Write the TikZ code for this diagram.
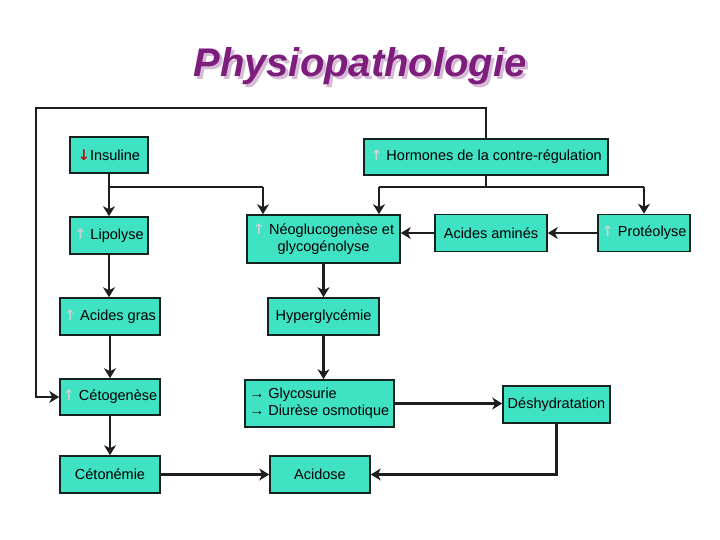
\documentclass[tikz,border=0pt]{standalone}
\usepackage{fontspec}
\setmainfont{Liberation Sans}
\newfontfamily\arrowfont{DejaVu Sans}
\usetikzlibrary{arrows.meta,calc}

\definecolor{boxfill}{RGB}{64,226,196}
\definecolor{titlepurple}{RGB}{125,30,125}
\definecolor{titleshadow}{RGB}{214,186,214}
\definecolor{upgray}{RGB}{200,212,208}

\tikzset{
  box/.style={draw={rgb,255:red,20;green,35;blue,30}, line width=1.6pt, fill=boxfill,
    inner sep=2pt, font=\fontsize{14.5}{17}\selectfont, align=center},
  link/.style={line width=2.2pt, draw={rgb,255:red,30;green,30;blue,30}},
  thinlink/.style={line width=1.5pt, draw={rgb,255:red,30;green,30;blue,30}},
  arr/.style={link, -{Stealth[length=10pt,width=12pt,inset=3pt]}},
}
\newcommand{\up}{{\arrowfont\bfseries\textcolor{upgray}{↑}}}
\newcommand{\down}{{\arrowfont\bfseries\textcolor{red!85!black}{↓}}}
\newcommand{\shadowtitle}[1]{\rlap{\kern3pt\raisebox{-3pt}{\textcolor{titleshadow}{#1}}}#1}

\begin{document}
\begin{tikzpicture}[x=1pt,y=1pt,yscale=-1,xscale=1]
\useasboundingbox (0,0) rectangle (720,540);

% Title
\node (title) [text=titlepurple, font=\fontsize{40}{44}\selectfont\bfseries\itshape] at (360,68) {\shadowtitle{Physiopathologie}};

% Boxes
\node (insuline)  [box, minimum width=78pt,  minimum height=36pt] at (109,155)   {\down Insuline};
\node (hormones)  [box, minimum width=244pt, minimum height=36pt] at (486,157)   {\up{} Hormones de la contre-régulation};
\node (lipolyse)  [box, minimum width=78pt,  minimum height=37pt] at (109,235.5) {\up{} Lipolyse};
\node (neo)       [box, minimum width=153pt, minimum height=48pt] at (323.5,239) {\up{} Néoglucogenèse et\\glycogénolyse};
\node (amines)    [box, minimum width=112pt, minimum height=37pt] at (491,233)   {Acides aminés};
\node (proteo)    [box, minimum width=92pt,  minimum height=37pt] at (644,233)   {\up{} Protéolyse};
\node (gras)      [box, minimum width=100pt, minimum height=37pt] at (110,316.5) {\up{} Acides gras};
\node (hyper)     [box, minimum width=111pt, minimum height=37pt] at (323.5,316.5) {Hyperglycémie};
\node (ceto)      [box, minimum width=100pt, minimum height=36pt] at (110,397)   {\up{} Cétogenèse};
\node (glyco)     [box, minimum width=149pt, minimum height=47pt, align=left] at (319.5,403.5) {→ Glycosurie\\→ Diurèse osmotique};
\node (deshy)     [box, minimum width=107pt, minimum height=37pt] at (556.5,404.5) {Déshydratation};
\node (cetonemie) [box, minimum width=100pt, minimum height=37pt] at (110,474.5) {Cétonémie};
\node (acidose)   [box, minimum width=100pt, minimum height=37pt] at (320,474.5) {Acidose};

% Branch points
\coordinate (splitI) at (109,187);
\coordinate (splitH) at (486,187);
\coordinate (loop) at (36,108);

% Connectors
\draw [arr] (insuline.south) -- (lipolyse.north);
\draw [thinlink] (splitI) -- (263,187);
\draw [arr] (263,187) -- ([xshift=-60.5pt]neo.north);
\draw [thinlink] (hormones.south) -- (splitH);
\draw [thinlink] (splitH) -- (379,187);
\draw [arr] (379,187) -- ([xshift=55.5pt]neo.north);
\draw [thinlink] (splitH) -- (644,187);
\draw [arr] (644,187) -- (proteo.north);
\draw [arr] (proteo.west) -- (amines.east);
\draw [arr] (amines.west) -- (amines.west -| neo.east);
\draw [arr] (lipolyse.south) -- (lipolyse.south |- gras.north);
\draw [arr] (gras.south) -- (ceto.north);
\draw [arr] (ceto.south) -- (cetonemie.north);
\draw [arr] (cetonemie.east) -- (acidose.west);
\draw [arr] (neo.south) -- (neo.south |- hyper.north);
\draw [arr] (hyper.south) -- (hyper.south |- glyco.north);
\draw [arr] (glyco.east) -- (glyco.east -| deshy.west);
\draw [arr] (deshy.south) |- (acidose.east);
\draw [arr] (hormones.north) |- (loop) |- (ceto.west);

\end{tikzpicture}
\end{document}
